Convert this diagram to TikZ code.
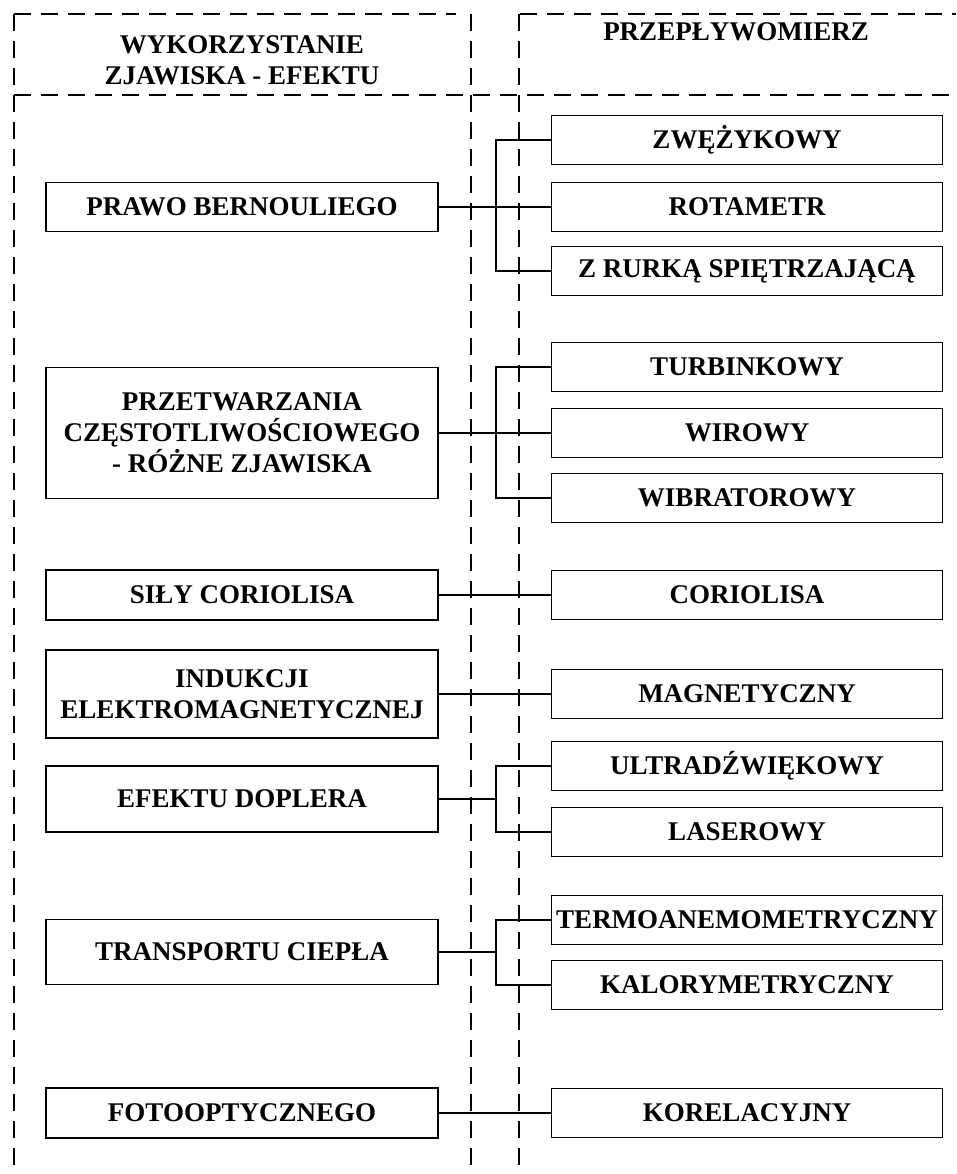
\documentclass[tikz,border=0pt]{standalone}
\usepackage{fontspec}
\setmainfont{Liberation Serif}
\begin{document}
\begin{tikzpicture}[
    x=1pt, y=-1pt,
    every node/.style={font=\bfseries\fontsize{27}{31}\selectfont},
    frame/.style={dash pattern=on 17pt off 10pt, line width=1.4pt},
    leftbox/.style={draw, line width=1.6pt, minimum width=392pt, align=center, inner sep=0pt},
    rightbox/.style={draw, line width=1.6pt, minimum width=391pt, minimum height=49pt, inner sep=0pt},
    link/.style={line width=1.2pt}]
    \useasboundingbox (0,0) rectangle (956,1174);

    % Ramki
    \draw[frame] (14,14) -- (456,14);
    \draw[frame] (520,14) -- (956,14);
    \draw[frame] (14,95) -- (956,95);
    \draw[frame] (14,14) -- (14,1174);
    \draw[frame] (471,14) -- (471,1174);
    \draw[frame] (519,14) -- (519,1174);

    % Naglowki
    \node[align=center] (hleft) at (242,60) {WYKORZYSTANIE\\ZJAWISKA - EFEKTU};
    \node (hright) at (736,32) {PRZEPŁYWOMIERZ};

    % Zjawiska
    \node[leftbox, minimum height=49pt] (bern) at (242,207) {PRAWO BERNOULIEGO};
    \node[leftbox, minimum height=131pt] (przetw) at (242,433) {PRZETWARZANIA\\CZĘSTOTLIWOŚCIOWEGO\\- RÓŻNE ZJAWISKA};
    \node[leftbox, minimum height=50pt] (sily) at (242,595) {SIŁY CORIOLISA};
    \node[leftbox, minimum height=88pt] (induk) at (242,694) {INDUKCJI\\ELEKTROMAGNETYCZNEJ};
    \node[leftbox, minimum height=66pt] (dopler) at (242,799) {EFEKTU DOPLERA};
    \node[leftbox, minimum height=65pt] (transp) at (242,952) {TRANSPORTU CIEPŁA};
    \node[leftbox, minimum height=50pt] (foto) at (242,1113) {FOTOOPTYCZNEGO};

    % Przeplywomierze
    \node[rightbox] (zwez) at (747,140) {ZWĘŻYKOWY};
    \node[rightbox] (rota) at (747,207) {ROTAMETR};
    \node[rightbox] (rurka) at (747,271) {Z RURKĄ SPIĘTRZAJĄCĄ};
    \node[rightbox] (turb) at (747,367) {TURBINKOWY};
    \node[rightbox] (wir) at (747,433) {WIROWY};
    \node[rightbox] (wibr) at (747,498) {WIBRATOROWY};
    \node[rightbox] (cor) at (747,595) {CORIOLISA};
    \node[rightbox] (magn) at (747,694) {MAGNETYCZNY};
    \node[rightbox] (ultra) at (747,766) {ULTRADŹWIĘKOWY};
    \node[rightbox] (laser) at (747,832) {LASEROWY};
    \node[rightbox] (termo) at (747,920) {TERMOANEMOMETRYCZNY};
    \node[rightbox] (kalor) at (747,985) {KALORYMETRYCZNY};
    \node[rightbox] (korel) at (747,1113) {KORELACYJNY};

    % Polaczenia
    \coordinate (bus) at (496,0);
    \foreach \src/\dst in {bern/zwez, bern/rota, bern/rurka,
                           przetw/turb, przetw/wir, przetw/wibr,
                           sily/cor, induk/magn,
                           dopler/ultra, dopler/laser,
                           transp/termo, transp/kalor, foto/korel}
        \draw[link] (\src.east) -- (\src.east -| bus) |- (\dst.west);
\end{tikzpicture}
\end{document}
